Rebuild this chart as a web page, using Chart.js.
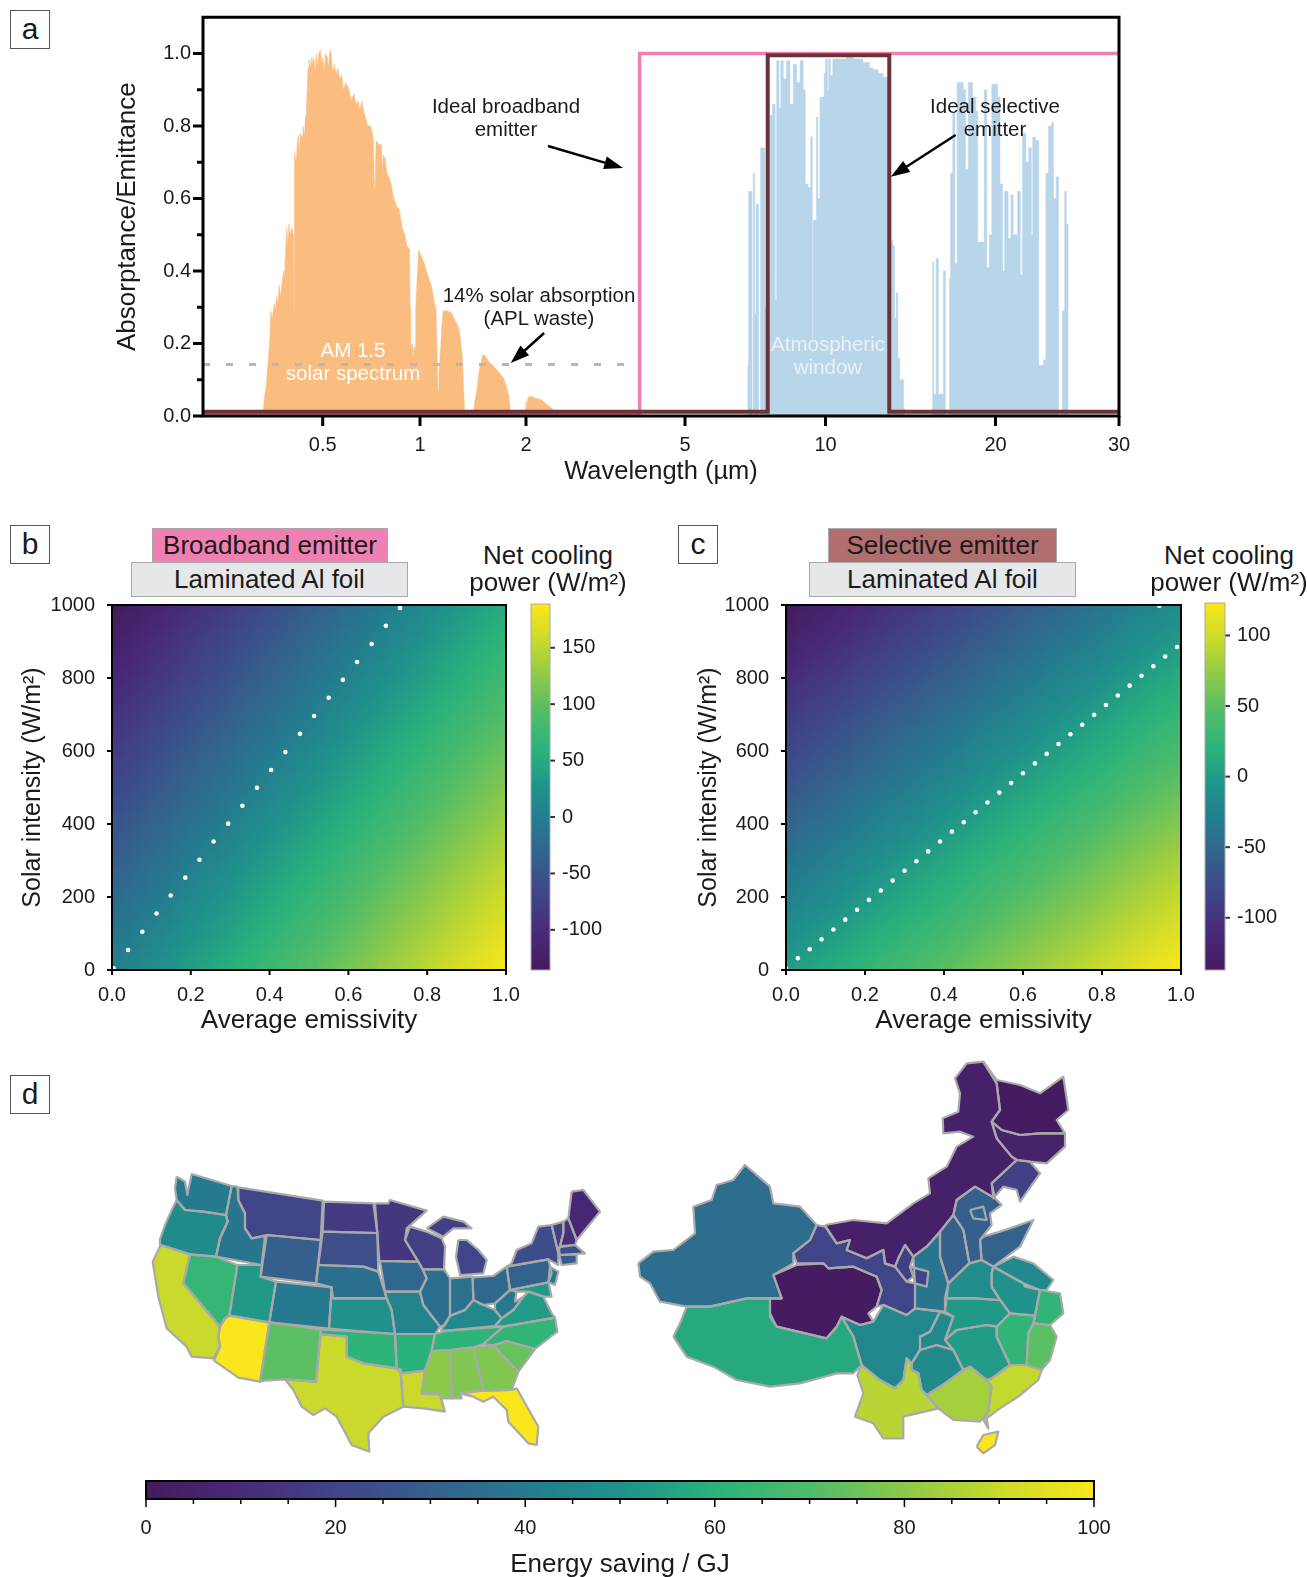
<!DOCTYPE html>
<html>
<head>
<meta charset="utf-8">
<title>Emitter cooling figure</title>
<script src="https://cdn.jsdelivr.net/npm/chart.js@4/dist/chart.umd.min.js"></script>
<style>
  html, body { margin: 0; padding: 0; background: #fff; }
  #page { position: relative; width: 1307px; height: 1577px; overflow: hidden; font-family: "Liberation Sans", Arial, sans-serif; color: #1a1a1a; }
  #page canvas { position: absolute; }
  .label { position: absolute; transform: translate(-50%, -50%); white-space: nowrap; line-height: 1; }
  .letter { position: absolute; box-sizing: border-box; width: 40px; height: 39px; border: 1px solid #555; background: #fff; font-size: 30px; line-height: 35px; text-align: center; }
  .strip { position: absolute; box-sizing: border-box; border: 1px solid #a9a9a9; font-size: 26px; text-align: center; line-height: 32px; }
</style>
</head>
<body>
<div id="page"></div>
<script>
// panel a
const axisWaves = [0.2, 0.5, 1, 2, 5, 10, 20, 30];
const axisOffsets = [0, 119.7, 217, 323, 482, 622.5, 792.5, 916];
const waveTicks = [0.5, 1, 2, 5, 10, 20, 30];
const waveTickLabels = ['0.5', '1', '2', '5', '10', '20', '30'];
const absorbTicks = [0, 0.1, 0.2, 0.3, 0.4, 0.5, 0.6, 0.7, 0.8, 0.9, 1.0];

const solarWave = [0.30, 0.317, 0.320, 0.324, 0.327, 0.330, 0.334, 0.336, 0.340, 0.345, 0.348, 0.351, 0.355, 0.358, 0.362, 0.366, 0.370, 0.373, 0.376, 0.380, 0.383, 0.386, 0.390, 0.395, 0.399, 0.401, 0.402, 0.403, 0.408, 0.412, 0.415, 0.418, 0.421, 0.427, 0.430, 0.435, 0.438, 0.441, 0.444, 0.447, 0.450, 0.455, 0.460, 0.464, 0.467, 0.472, 0.476, 0.480, 0.485, 0.491, 0.496, 0.500, 0.505, 0.510, 0.517, 0.521, 0.525, 0.530, 0.535, 0.540, 0.544, 0.550, 0.556, 0.565, 0.573, 0.580, 0.590, 0.603, 0.612, 0.625, 0.635, 0.645, 0.651, 0.660, 0.670, 0.685, 0.690, 0.704, 0.712, 0.718, 0.722, 0.726, 0.731, 0.745, 0.760, 0.764, 0.770, 0.780, 0.790, 0.800, 0.815, 0.825, 0.831, 0.845, 0.864, 0.880, 0.898, 0.910, 0.928, 0.932, 0.936, 0.945, 0.950, 0.955, 0.960, 0.966, 0.970, 0.990, 1.0, 1.029, 1.05, 1.078, 1.10, 1.11, 1.118, 1.125, 1.132, 1.144, 1.152, 1.163, 1.18, 1.2, 1.228, 1.25, 1.287, 1.30, 1.318, 1.33, 1.34, 1.414, 1.431, 1.45, 1.47, 1.507, 1.53, 1.57, 1.61, 1.66, 1.728, 1.76, 1.79, 1.811, 1.99, 2.0, 2.01, 2.02, 2.054, 2.1, 2.186, 2.27, 2.35, 2.45];
const solarValue = [0, 0.01, 0.05, 0.08, 0.12, 0.16, 0.22, 0.29, 0.27, 0.31, 0.29, 0.33, 0.31, 0.36, 0.33, 0.365, 0.40, 0.38, 0.45, 0.52, 0.47, 0.53, 0.50, 0.52, 0.50, 0.29, 0.29, 0.73, 0.70, 0.76, 0.775, 0.72, 0.78, 0.77, 0.80, 0.77, 0.83, 0.83, 0.90, 0.96, 0.985, 0.96, 0.99, 0.97, 0.99, 0.95, 1.0, 0.96, 1.0, 1.01, 0.97, 0.99, 0.95, 1.0, 0.99, 0.96, 1.0, 1.01, 0.96, 0.95, 0.97, 0.94, 0.96, 0.93, 0.94, 0.90, 0.92, 0.90, 0.87, 0.89, 0.86, 0.87, 0.84, 0.87, 0.84, 0.81, 0.80, 0.80, 0.78, 0.76, 0.63, 0.63, 0.76, 0.75, 0.75, 0.68, 0.72, 0.71, 0.67, 0.66, 0.64, 0.61, 0.60, 0.58, 0.57, 0.52, 0.50, 0.47, 0.46, 0.30, 0.17, 0.20, 0.17, 0.17, 0.19, 0.19, 0.30, 0.457, 0.45, 0.42, 0.39, 0.36, 0.31, 0.30, 0.18, 0.07, 0.12, 0.18, 0.24, 0.29, 0.29, 0.29, 0.285, 0.27, 0.245, 0.22, 0.17, 0.08, 0, 0, 0.04, 0.07, 0.12, 0.17, 0.165, 0.15, 0.14, 0.125, 0.105, 0.08, 0.055, 0, 0, 0.04, 0.02, 0.05, 0.055, 0.05, 0.045, 0.03, 0.015, 0];

const atmoWave = [6.80, 6.84, 6.93, 6.96, 7.0, 7.05, 7.10, 7.17, 7.19, 7.26, 7.38, 7.42, 7.50, 7.55, 7.61, 7.70, 7.75, 7.80, 7.86, 7.95, 8.02, 8.12, 8.25, 8.39, 8.53, 8.68, 8.82, 8.96, 9.05, 9.18, 9.29, 9.34, 9.37, 9.41, 9.48, 9.56, 9.63, 9.73, 9.81, 9.93, 10.0, 10.08, 10.13, 10.2, 10.3, 10.46, 10.89, 11.19, 11.65, 11.97, 12.14, 12.39, 12.64, 12.9, 12.99, 13.07, 13.16, 13.25, 13.34, 13.43, 13.53, 13.67, 13.75, 13.80, 15.48, 15.55, 15.7, 15.85, 16.17, 16.3, 16.58, 16.65, 16.8, 16.95, 17.1, 17.37, 17.54, 17.7, 17.9, 18.09, 18.22, 18.46, 18.6, 18.85, 19.1, 19.3, 19.5, 19.7, 19.97, 20.13, 20.3, 20.47, 20.6, 20.85, 21.04, 21.2, 21.5, 21.7, 21.85, 22.1, 22.3, 22.5, 22.6, 22.8, 23.05, 23.24, 23.4, 23.6, 23.8, 24.05, 24.2, 24.4, 24.6, 24.9, 25.1, 25.24, 25.38];
const atmoValue = [0.136, 0.62, 0.62, 0, 0.67, 0.28, 0.585, 0.585, 0, 0.74, 0.74, 0.3, 0.3, 0.4, 0.83, 0.86, 0.86, 0.32, 0.98, 0.85, 0.98, 0.93, 0.98, 0.86, 0.97, 0.92, 0.98, 0.90, 0.64, 0.63, 0.77, 0.77, 0.21, 0.54, 0.54, 0.825, 0.60, 0.88, 0.88, 0.945, 0.985, 0.90, 0.985, 0.94, 0.985, 0.985, 0.99, 0.985, 0.975, 0.96, 0.955, 0.945, 0.935, 0.85, 0.65, 0.485, 0.47, 0.27, 0.34, 0.16, 0.10, 0.10, 0.02, 0, 0.425, 0.06, 0.435, 0.06, 0.40, 0, 0.38, 0.67, 0.835, 0.42, 0.92, 0.92, 0.90, 0.68, 0.92, 0.92, 0.88, 0.84, 0.48, 0.48, 0.90, 0.41, 0.50, 0.915, 0.915, 0.88, 0.64, 0.40, 0.62, 0.49, 0.61, 0.50, 0.62, 0.39, 0.78, 0.70, 0.74, 0.50, 0.77, 0.76, 0.14, 0.14, 0.155, 0.67, 0.80, 0.81, 0.60, 0.66, 0, 0.29, 0.62, 0.53, 0];

const broadbandWave = [0.2, 3.85, 3.85, 30];
const broadbandValue = [0.005, 0.005, 1, 1];
const selectiveWave = [0.2, 7.52, 7.52, 12.97, 12.97, 30];
const selectiveValue = [0.012, 0.012, 0.995, 0.995, 0.012, 0.012];
const wasteWave = [0.2, 3.6];
const wasteValue = [0.142, 0.142];
const arrowFromWave = [2.27, 17.0, 2.22];
const arrowFromValue = [0.745, 0.775, 0.229];
const arrowToWave = [3.5, 13.05, 1.81];
const arrowToValue = [0.684, 0.66, 0.146];

// panels b and c
const emissivity = [0, 0.05, 0.1, 0.15, 0.2, 0.25, 0.3, 0.35, 0.4, 0.45, 0.5, 0.55, 0.6, 0.65, 0.7, 0.75, 0.8, 0.85, 0.9, 0.95, 1];
const solarIntensity = [1000, 950, 900, 850, 800, 750, 700, 650, 600, 550, 500, 450, 400, 350, 300, 250, 200, 150, 100, 50, 0];
const emissivityTicks = [0, 0.2, 0.4, 0.6, 0.8, 1];
const intensityTicks = [0, 200, 400, 600, 800, 1000];

const broadbandPower = [
  [-137,-128,-118,-109,-99,-90,-81,-71,-62,-52,-43,-34,-24,-15,-5,4,13,23,32,42,51],
  [-130,-121,-111,-102,-92,-83,-74,-64,-55,-45,-36,-27,-17,-8,2,11,20,30,39,49,58],
  [-123,-114,-104,-95,-85,-76,-67,-57,-48,-38,-29,-20,-10,-1,9,18,27,37,46,56,65],
  [-116,-107,-97,-88,-78,-69,-60,-50,-41,-31,-22,-13,-3,6,16,25,34,44,53,63,72],
  [-110,-101,-91,-82,-72,-63,-54,-44,-35,-25,-16,-7,3,12,22,31,40,50,59,69,78],
  [-103,-94,-84,-75,-65,-56,-47,-37,-28,-18,-9,0,10,19,29,38,47,57,66,76,85],
  [-96,-87,-77,-68,-58,-49,-40,-30,-21,-11,-2,7,17,26,36,45,54,64,73,83,92],
  [-89,-80,-70,-61,-51,-42,-33,-23,-14,-4,5,14,24,33,43,52,61,71,80,90,99],
  [-82,-73,-63,-54,-44,-35,-26,-16,-7,3,12,21,31,40,50,59,68,78,87,97,106],
  [-75,-66,-56,-47,-37,-28,-19,-9,0,10,19,28,38,47,57,66,75,85,94,104,113],
  [-69,-60,-50,-41,-31,-22,-13,-3,6,16,25,34,44,53,63,72,81,91,100,110,119],
  [-62,-53,-43,-34,-24,-15,-6,4,13,23,32,41,51,60,70,79,88,98,107,117,126],
  [-55,-46,-36,-27,-17,-8,1,11,20,30,39,48,58,67,77,86,95,105,114,124,133],
  [-48,-39,-29,-20,-10,-1,8,18,27,37,46,55,65,74,84,93,102,112,121,131,140],
  [-41,-32,-22,-13,-3,6,15,25,34,44,53,62,72,81,91,100,109,119,128,138,147],
  [-34,-25,-15,-6,4,13,22,32,41,51,60,69,79,88,98,107,116,126,135,145,154],
  [-27,-18,-8,1,11,20,29,39,48,58,67,76,86,95,105,114,123,133,142,152,161],
  [-21,-12,-2,7,17,26,35,45,54,64,73,82,92,101,111,120,129,139,148,158,167],
  [-14,-5,5,14,24,33,42,52,61,71,80,89,99,108,118,127,136,146,155,165,174],
  [-7,2,12,21,31,40,49,59,68,78,87,96,106,115,125,134,143,153,162,172,181],
  [0,9,19,28,38,47,56,66,75,85,94,103,113,122,132,141,150,160,169,179,188],
];
const selectivePower = [
  [-137,-131,-125,-119,-112,-106,-100,-94,-88,-82,-75,-69,-63,-57,-51,-45,-39,-32,-26,-20,-14],
  [-131,-125,-119,-113,-106,-100,-94,-88,-82,-76,-69,-63,-57,-51,-45,-39,-33,-26,-20,-14,-8],
  [-124,-118,-112,-106,-99,-93,-87,-81,-75,-69,-62,-56,-50,-44,-38,-32,-26,-19,-13,-7,-1],
  [-117,-111,-105,-99,-92,-86,-80,-74,-68,-62,-55,-49,-43,-37,-31,-25,-19,-12,-6,0,6],
  [-110,-104,-98,-92,-85,-79,-73,-67,-61,-55,-48,-42,-36,-30,-24,-18,-12,-5,1,7,13],
  [-103,-97,-91,-85,-78,-72,-66,-60,-54,-48,-41,-35,-29,-23,-17,-11,-5,2,8,14,20],
  [-96,-90,-84,-78,-71,-65,-59,-53,-47,-41,-34,-28,-22,-16,-10,-4,2,9,15,21,27],
  [-89,-83,-77,-71,-64,-58,-52,-46,-40,-34,-27,-21,-15,-9,-3,3,9,16,22,28,34],
  [-83,-77,-71,-65,-58,-52,-46,-40,-34,-28,-21,-15,-9,-3,3,9,15,22,28,34,40],
  [-76,-70,-64,-58,-51,-45,-39,-33,-27,-21,-14,-8,-2,4,10,16,22,29,35,41,47],
  [-69,-63,-57,-51,-44,-38,-32,-26,-20,-14,-7,-1,5,11,17,23,29,36,42,48,54],
  [-62,-56,-50,-44,-37,-31,-25,-19,-13,-7,0,6,12,18,24,30,36,43,49,55,61],
  [-55,-49,-43,-37,-30,-24,-18,-12,-6,0,7,13,19,25,31,37,43,50,56,62,68],
  [-48,-42,-36,-30,-23,-17,-11,-5,1,7,14,20,26,32,38,44,50,57,63,69,75],
  [-41,-35,-29,-23,-16,-10,-4,2,8,14,21,27,33,39,45,51,57,64,70,76,82],
  [-34,-28,-22,-16,-9,-3,3,9,15,21,28,34,40,46,52,58,64,71,77,83,89],
  [-28,-22,-16,-10,-3,3,9,15,21,27,34,40,46,52,58,64,70,77,83,89,95],
  [-21,-15,-9,-3,4,10,16,22,28,34,41,47,53,59,65,71,77,84,90,96,102],
  [-14,-8,-2,4,11,17,23,29,35,41,48,54,60,66,72,78,84,91,97,103,109],
  [-7,-1,5,11,18,24,30,36,42,48,55,61,67,73,79,85,91,98,104,110,116],
  [0,6,12,18,25,31,37,43,49,55,62,68,74,80,86,92,98,105,111,117,123],
];
const broadbandRange = [-135.6, 188.8];
const selectiveRange = [-137, 123];
const broadbandBarTicks = [-100, -50, 0, 50, 100, 150];
const selectiveBarTicks = [-100, -50, 0, 50, 100];

const broadbandZeroE = [0.004, 0.041, 0.077, 0.113, 0.149, 0.186, 0.222, 0.258, 0.295, 0.331, 0.368, 0.404, 0.44, 0.477, 0.513, 0.55, 0.586, 0.622, 0.659, 0.695, 0.731];
const broadbandZeroS = [5, 55, 105, 155, 204, 253, 302, 352, 401, 450, 499, 548, 597, 647, 696, 746, 795, 844, 893, 943, 992];
const selectiveZeroE = [0, 0.03, 0.06, 0.09, 0.12, 0.15, 0.18, 0.21, 0.24, 0.27, 0.30, 0.33, 0.36, 0.39, 0.42, 0.45, 0.48, 0.51, 0.54, 0.57, 0.60, 0.63, 0.66, 0.69, 0.72, 0.75, 0.78, 0.81, 0.84, 0.87, 0.90, 0.93, 0.96, 0.99, 0.945];
const selectiveZeroS = [5, 32, 57, 84, 111, 138, 165, 192, 218, 245, 272, 298, 325, 352, 379, 405, 432, 459, 486, 512, 539, 566, 592, 619, 646, 672, 699, 726, 752, 779, 806, 832, 859, 885, 998];

// panel d
const savingRange = [0, 100];
const savingTicks = [0, 5, 10, 15, 20, 25, 30, 35, 40, 45, 50, 55, 60, 65, 70, 75, 80, 85, 90, 95, 100];

const usNames = ['WA','OR','CA','NV','ID','MT','WY','UT','CO','AZ','NM','TX','OK','KS','NE','SD','ND','MN','IA','MO','AR','LA','MS','AL','GA','SC','NC','TN','KY','VA','WV','OH','IN','IL','WI','MI','UP','PA','NY','VT','NH','ME','MA','CT','NJ','MD','FL'];
const usSaving = [40,47,90,63,38,20,30,52,40,100,72,90,61,50,36,24,16,15,33,44,60,90,80,78,78,74,62,61,46,53,40,34,37,36,18,20,18,31,23,18,12,8,24,28,40,52,100];
const usOutlines = [
  [[140,80],[165,95],[172,135],[185,72],[305,108],[288,195],[220,185],[165,180],[140,150],[135,115]],
  [[140,150],[165,180],[220,185],[288,195],[293,215],[270,265],[258,320],[180,313],[92,285],[90,268],[105,225],[125,180]],
  [[92,285],[180,313],[160,400],[270,530],[265,560],[270,590],[250,625],[185,620],[170,590],[110,535],[85,440],[68,335]],
  [[180,313],[258,320],[322,345],[298,497],[285,505],[270,530],[160,400]],
  [[305,108],[322,110],[325,150],[345,190],[345,235],[365,265],[405,258],[395,345],[258,320],[270,265],[293,215],[288,195]],
  [[325,112],[578,152],[572,270],[410,255],[365,265],[345,235],[345,190],[325,150]],
  [[410,255],[572,270],[558,400],[392,380]],
  [[322,345],[395,345],[392,380],[438,395],[418,517],[298,497]],
  [[438,395],[605,412],[597,536],[418,517]],
  [[298,497],[418,517],[390,695],[325,683],[252,632],[270,590],[265,560],[270,530],[285,505]],
  [[418,517],[572,538],[558,695],[465,688],[400,692],[390,695]],
  [[572,553],[650,560],[650,620],[700,640],[800,655],[812,670],[820,770],[760,800],[715,850],[718,905],[665,885],[620,800],[585,775],[550,795],[515,770],[490,720],[465,688],[558,695]],
  [[572,538],[795,552],[800,655],[700,640],[650,620],[650,560],[572,553]],
  [[608,445],[770,445],[785,480],[795,552],[597,536],[605,412]],
  [[565,345],[700,350],[745,365],[770,445],[608,445],[605,412],[558,400]],
  [[578,245],[742,249],[745,365],[700,350],[565,345]],
  [[582,155],[730,160],[742,249],[578,245]],
  [[735,160],[775,160],[780,150],[890,182],[830,235],[825,270],[865,335],[748,333],[742,250]],
  [[750,333],[865,335],[878,358],[890,385],[870,425],[765,425]],
  [[765,425],[870,425],[880,465],[930,530],[915,552],[795,552],[785,480],[770,445]],
  [[795,552],[915,552],[905,603],[885,662],[815,670],[812,658],[800,655]],
  [[812,670],[885,662],[875,730],[930,735],[945,785],[880,775],[820,770]],
  [[905,603],[960,600],[965,745],[935,745],[925,730],[875,730],[885,662]],
  [[960,600],[1030,592],[1060,720],[990,730],[995,745],[965,745]],
  [[1030,592],[1090,586],[1165,665],[1145,720],[1060,722]],
  [[1090,586],[1130,573],[1215,597],[1165,665]],
  [[1060,582],[1120,530],[1275,503],[1282,545],[1215,597],[1130,573],[1090,586]],
  [[915,552],[950,542],[1120,530],[1060,582],[1030,592],[960,600],[905,603]],
  [[932,542],[960,497],[1005,480],[1030,450],[1060,465],[1095,480],[1115,505],[1095,528],[950,542]],
  [[1095,528],[1115,505],[1150,480],[1180,440],[1195,425],[1240,440],[1265,490],[1275,503],[1120,530]],
  [[1095,460],[1140,420],[1160,425],[1155,455],[1180,440],[1150,480],[1115,505],[1095,480]],
  [[1028,382],[1090,378],[1130,350],[1140,420],[1095,460],[1060,465],[1030,450]],
  [[960,385],[1028,380],[1030,450],[1005,480],[960,497]],
  [[878,358],[942,358],[960,385],[960,497],[945,525],[930,530],[880,465],[870,425],[890,385]],
  [[840,230],[890,245],[935,265],[945,290],[942,358],[878,358],[865,335],[825,270]],
  [[985,270],[1010,270],[1045,300],[1070,330],[1060,370],[990,375],[978,320]],
  [[890,235],[940,200],[1000,215],[1025,235],[970,235],[940,260]],
  [[1130,350],[1255,328],[1265,370],[1255,397],[1140,420]],
  [[1145,340],[1160,300],[1205,280],[1225,230],[1265,225],[1285,310],[1285,345],[1255,328],[1130,350]],
  [[1265,225],[1300,215],[1300,250],[1290,288],[1285,310]],
  [[1315,205],[1340,270],[1335,285],[1290,288],[1300,250],[1300,215]],
  [[1325,125],[1360,120],[1410,185],[1340,270],[1315,205]],
  [[1285,292],[1335,285],[1365,310],[1290,315]],
  [[1288,315],[1340,313],[1340,340],[1295,345]],
  [[1260,350],[1285,365],[1275,405],[1255,397]],
  [[1140,420],[1255,397],[1265,440],[1240,440],[1195,425],[1160,425]],
  [[990,730],[1060,722],[1145,720],[1160,715],[1225,830],[1220,885],[1195,880],[1135,815],[1130,780],[1090,740],[1060,755],[1030,740]],
];

const chinaNames = ['Xinjiang','Tibet','Qinghai','Gansu','Inner Mongolia','Heilongjiang','Jilin','Liaoning','Hebei','Beijing','Shanxi','Shaanxi','Ningxia','Ningxia south','Shandong','Henan','Jiangsu','Anhui','Hubei','Zhejiang','Jiangxi','Fujian','Hunan','Chongqing','Sichuan','Guizhou','Yunnan','Guangxi','Guangdong','Hainan'];
const chinaSaving = [35,57,1,20,4,1,5,18,30,33,30,38,18,20,31,48,46,50,52,62,62,72,53,46,45,47,87,84,89,100];
const chinaOutlines = [
  [[55,640],[100,605],[160,600],[225,550],[220,470],[275,450],[290,405],[340,390],[375,345],[450,410],[460,460],[540,470],[590,525],[570,570],[520,610],[520,640],[460,675],[485,745],[380,745],[270,770],[200,770],[120,755],[90,700],[60,680]],
  [[160,860],[180,820],[200,770],[270,770],[380,745],[485,745],[450,745],[450,800],[470,830],[620,865],[650,830],[665,800],[700,860],[725,945],[700,970],[650,970],[540,1000],[450,1010],[350,990],[280,950],[200,920]],
  [[460,675],[530,645],[610,640],[625,655],[700,650],[770,680],[785,720],[770,770],[745,790],[760,815],[720,825],[665,800],[650,830],[620,865],[470,830],[450,790],[450,745],[485,745]],
  [[590,525],[615,530],[650,580],[690,570],[680,600],[740,625],[790,600],[795,640],[825,650],[860,695],[885,700],[885,775],[860,795],[790,765],[770,770],[785,720],[770,680],[700,650],[625,655],[610,640],[530,640],[520,610],[570,570]],
  [[615,525],[700,510],[800,520],[880,460],[930,430],[925,385],[980,350],[1010,290],[1060,260],[1020,245],[970,250],[968,205],[1015,185],[1020,130],[1005,85],[1040,40],[1090,35],[1130,100],[1140,180],[1115,215],[1130,265],[1175,320],[1190,330],[1115,400],[1125,445],[1065,410],[1010,450],[1000,495],[960,545],[920,590],[880,620],[855,585],[835,625],[825,650],[795,640],[790,600],[740,625],[680,600],[690,570],[650,580]],
  [[1090,35],[1130,90],[1200,105],[1260,130],[1330,80],[1345,180],[1310,210],[1335,250],[1260,250],[1200,255],[1145,240],[1115,215],[1140,180],[1130,100]],
  [[1115,215],[1145,240],[1200,255],[1260,250],[1335,250],[1335,290],[1280,340],[1230,335],[1190,330],[1175,320],[1130,265]],
  [[1190,330],[1230,335],[1260,370],[1200,455],[1190,420],[1150,410],[1120,445],[1115,400]],
  [[1065,410],[1125,445],[1145,465],[1110,490],[1115,525],[1080,570],[1085,630],[1048,640],[1030,540],[1000,495],[1010,450]],
  [[1050,480],[1090,470],[1100,510],[1060,505]],
  [[1000,495],[1030,540],[1048,640],[985,700],[960,620],[960,545]],
  [[960,545],[960,620],[985,700],[975,745],[975,785],[885,775],[885,700],[880,620],[920,590]],
  [[855,585],[880,620],[870,650],[880,680],[860,695],[825,650],[835,625]],
  [[870,650],[925,665],[920,710],[885,700],[880,680]],
  [[1090,560],[1140,545],[1170,535],[1240,510],[1200,590],[1120,650],[1085,630],[1080,570]],
  [[985,700],[1048,640],[1085,630],[1120,650],[1115,670],[1115,710],[1140,750],[1060,745],[980,745]],
  [[1120,650],[1180,620],[1240,640],[1300,690],[1280,720],[1260,720],[1210,700]],
  [[1115,670],[1120,650],[1210,700],[1215,710],[1260,720],[1245,797],[1170,790],[1140,750],[1115,710]],
  [[980,745],[1060,745],[1140,750],[1170,790],[1130,830],[1100,825],[1010,840],[975,870],[1000,800],[975,785]],
  [[1260,720],[1320,730],[1330,790],[1290,825],[1240,820],[1245,797]],
  [[1170,790],[1245,797],[1240,820],[1225,850],[1220,945],[1170,945],[1130,860],[1130,830]],
  [[1240,820],[1290,825],[1310,860],[1290,930],[1265,960],[1220,945],[1225,850]],
  [[975,870],[1010,840],[1100,825],[1130,830],[1130,860],[1170,945],[1115,985],[1100,990],[1050,950],[1030,960],[1000,900]],
  [[960,785],[1000,800],[975,870],[1000,900],[950,885],[900,900],[900,860],[930,845]],
  [[665,800],[720,825],[760,815],[790,765],[860,795],[885,775],[960,785],[930,845],[900,860],[900,900],[875,940],[860,925],[850,990],[825,1015],[780,990],[725,945],[700,860]],
  [[900,900],[950,885],[1000,900],[1030,960],[975,1000],[920,1035],[905,1020],[895,970],[875,960],[875,940]],
  [[725,945],[780,990],[825,1015],[850,990],[860,925],[875,940],[875,960],[895,970],[905,1020],[920,1035],[955,1075],[850,1100],[850,1165],[790,1165],[760,1120],[705,1100],[730,1030],[712,975]],
  [[920,1035],[975,1000],[1030,960],[1050,950],[1100,990],[1115,1010],[1105,1085],[1080,1115],[1000,1110],[955,1075]],
  [[1100,990],[1115,985],[1170,945],[1220,945],[1265,960],[1255,990],[1195,1040],[1140,1075],[1100,1105],[1105,1135],[1090,1110],[1105,1085],[1115,1010]],
  [[1070,1190],[1090,1155],[1135,1145],[1125,1185],[1090,1210]],
];

const viridis = ['#451a5e', '#482a78', '#404488', '#355f8d', '#257a8f', '#1f938b', '#2ab27b', '#4fbc69', '#8cc94a', '#c9da2c', '#fae71b'];

const page = document.getElementById('page');
Chart.defaults.font.family = '"Liberation Sans", Arial, sans-serif';
Chart.defaults.color = '#1a1a1a';
Chart.defaults.animation = false;
Chart.defaults.plugins.legend.display = false;
Chart.defaults.plugins.tooltip.enabled = false;

const warp = (wave) => {
  let i = 0;
  while (i < axisWaves.length - 2 && wave > axisWaves[i + 1]) i++;
  const part = Math.log(wave / axisWaves[i]) / Math.log(axisWaves[i + 1] / axisWaves[i]);
  return axisOffsets[i] + part * (axisOffsets[i + 1] - axisOffsets[i]);
};

const hexToRgb = (hex) => [1, 3, 5].map((p) => parseInt(hex.slice(p, p + 2), 16));
const colorAt = (t) => {
  const pos = Math.min(Math.max(t, 0), 1) * (viridis.length - 1);
  const i = Math.min(Math.floor(pos), viridis.length - 2);
  const a = hexToRgb(viridis[i]);
  const b = hexToRgb(viridis[i + 1]);
  const c = a.map((v, k) => Math.round(v + (b[k] - v) * (pos - i)));
  return `rgb(${c[0]},${c[1]},${c[2]})`;
};

const addCanvas = (left, top, width, height) => {
  const canvas = document.createElement('canvas');
  canvas.width = width;
  canvas.height = height;
  canvas.style.left = left + 'px';
  canvas.style.top = top + 'px';
  page.appendChild(canvas);
  return canvas.getContext('2d');
};

const addLabel = (text, x, y, size, color) => {
  const el = document.createElement('div');
  el.className = 'label';
  el.textContent = text;
  el.style.left = x + 'px';
  el.style.top = y + 'px';
  el.style.fontSize = size + 'px';
  if (color) el.style.color = color;
  page.appendChild(el);
};

const addLetter = (text, left, top) => {
  const el = document.createElement('div');
  el.className = 'letter';
  el.textContent = text;
  el.style.left = left + 'px';
  el.style.top = top + 'px';
  page.appendChild(el);
};

const addStrip = (text, left, top, width, height, color) => {
  const el = document.createElement('div');
  el.className = 'strip';
  el.textContent = text;
  el.style.left = left + 'px';
  el.style.top = top + 'px';
  el.style.width = width + 'px';
  el.style.height = height + 'px';
  el.style.background = color;
  page.appendChild(el);
};

// fixed axis sizes, so the plot area lands where the reference has it
const fixSize = (key, size) => (s) => {
  s[key] = size;
  s.paddingTop = 0;
  s.paddingBottom = 0;
  s.paddingLeft = 0;
  s.paddingRight = 0;
};

// ticks and frame drawn from the scales, unlabelled ticks come out shorter
const frameTicks = {
  id: 'frameTicks',
  afterDraw(chart, args, opts) {
    const { ctx, chartArea: area } = chart;
    ctx.save();
    ctx.strokeStyle = opts.color || '#000';
    ctx.lineWidth = opts.tickWidth;
    Object.values(chart.scales).forEach((scale) => {
      if (!scale.options.display) return;
      scale.ticks.forEach((tick) => {
        const p = scale.getPixelForValue(tick.value);
        const len = tick.label === '' ? opts.minor : opts.major;
        ctx.beginPath();
        if (scale.isHorizontal()) {
          ctx.moveTo(p, area.bottom);
          ctx.lineTo(p, area.bottom + len);
        } else if (scale.position === 'right') {
          ctx.moveTo(area.right, p);
          ctx.lineTo(area.right + len, p);
        } else {
          ctx.moveTo(area.left, p);
          ctx.lineTo(area.left - len, p);
        }
        ctx.stroke();
      });
    });
    if (opts.frame) {
      ctx.strokeStyle = opts.frameColor || '#000';
      ctx.lineWidth = opts.frame;
      ctx.strokeRect(area.left, area.top, area.right - area.left, area.bottom - area.top);
    }
    ctx.restore();
  },
};

const arrowHeads = {
  id: 'arrowHeads',
  afterDatasetsDraw(chart) {
    const { ctx, scales } = chart;
    ctx.save();
    ctx.strokeStyle = '#000';
    ctx.fillStyle = '#000';
    ctx.lineWidth = 2.5;
    arrowFromWave.forEach((wave, i) => {
      const x1 = scales.x.getPixelForValue(warp(wave));
      const y1 = scales.y.getPixelForValue(arrowFromValue[i]);
      const x2 = scales.x.getPixelForValue(warp(arrowToWave[i]));
      const y2 = scales.y.getPixelForValue(arrowToValue[i]);
      const angle = Math.atan2(y2 - y1, x2 - x1);
      ctx.beginPath();
      ctx.moveTo(x1, y1);
      ctx.lineTo(x2 - 14 * Math.cos(angle), y2 - 14 * Math.sin(angle));
      ctx.stroke();
      ctx.beginPath();
      ctx.moveTo(x2, y2);
      ctx.lineTo(x2 - 20 * Math.cos(angle - 0.33), y2 - 20 * Math.sin(angle - 0.33));
      ctx.lineTo(x2 - 20 * Math.cos(angle + 0.33), y2 - 20 * Math.sin(angle + 0.33));
      ctx.closePath();
      ctx.fill();
    });
    ctx.restore();
  },
};

const regionFill = {
  id: 'regionFill',
  beforeDatasetsDraw(chart) {
    const { ctx } = chart;
    chart.data.datasets.forEach((set, i) => {
      const points = chart.getDatasetMeta(i).data;
      ctx.beginPath();
      points.forEach((p, k) => (k ? ctx.lineTo(p.x, p.y) : ctx.moveTo(p.x, p.y)));
      ctx.closePath();
      ctx.fillStyle = set.regionColor;
      ctx.fill();
    });
  },
};

// softens the cell edges of the heat maps, the plot area is blurred onto itself
const softCells = {
  id: 'softCells',
  afterDatasetDraw(chart, args) {
    if (args.index !== 1) return;
    const { ctx, chartArea: area } = chart;
    const w = area.right - area.left;
    const h = area.bottom - area.top;
    ctx.save();
    ctx.beginPath();
    ctx.rect(area.left, area.top, w, h);
    ctx.clip();
    ctx.filter = 'blur(9px)';
    ctx.drawImage(ctx.canvas, area.left, area.top, w, h, area.left, area.top, w, h);
    ctx.restore();
  },
};

const lineSet = (waves, values, extra) => ({
  data: waves.map((w, i) => ({ x: warp(w), y: values[i] })),
  showLine: true,
  pointRadius: 0,
  borderWidth: 0,
  ...extra,
});

new Chart(addCanvas(100, 5, 1044, 485), {
  type: 'scatter',
  data: {
    datasets: [
      lineSet(selectiveWave, selectiveValue, { borderColor: '#6d3234', borderWidth: 4 }),
      lineSet(broadbandWave, broadbandValue, { borderColor: '#f27fb4', borderWidth: 3.5 }),
      lineSet(wasteWave, wasteValue, { borderColor: '#b7b7b7', borderWidth: 3, borderDash: [7, 16] }),
      lineSet(solarWave, solarValue, { fill: 'origin', backgroundColor: '#fbbd7f', borderColor: '#fbbd7f', borderWidth: 0.5 }),
      lineSet(atmoWave, atmoValue, { fill: 'origin', stepped: 'before', backgroundColor: '#b8d5ea', borderColor: '#b8d5ea', borderWidth: 0.5 }),
    ],
  },
  options: {
    responsive: false,
    layout: { padding: { top: 12.25, right: 25 } },
    scales: {
      x: {
        type: 'linear',
        min: 0,
        max: 916,
        afterFit: fixSize('height', 74),
        afterBuildTicks: (s) => { s.ticks = waveTicks.map((w) => ({ value: warp(w) })); },
        grid: { display: false, drawTicks: false },
        border: { display: false },
        ticks: { padding: 17, autoSkip: false, maxRotation: 0, font: { size: 20 }, callback: (v, i) => waveTickLabels[i] },
        title: { display: true, text: 'Wavelength (µm)', font: { size: 25.5 }, padding: { top: 0, bottom: 2.6 } },
      },
      y: {
        min: 0,
        max: 1.1,
        afterFit: fixSize('width', 103),
        afterBuildTicks: (s) => { s.ticks = absorbTicks.map((v) => ({ value: v })); },
        grid: { display: false, drawTicks: false },
        border: { display: false },
        ticks: { padding: 12, autoSkip: false, font: { size: 20 }, callback: (v, i) => (i % 2 ? '' : v.toFixed(1)) },
        title: { display: true, text: 'Absorptance/Emittance', font: { size: 26 }, padding: { top: 12, bottom: 0 } },
      },
    },
    plugins: { frameTicks: { major: 10, minor: 6, tickWidth: 3, frame: 3 } },
  },
  plugins: [arrowHeads, frameTicks],
});

const heatChart = (ctx, power, range, zeroE, zeroS, marginLeft, titlePad, padTop) => {
  const cells = [];
  const cellColors = [];
  power.forEach((row, r) => row.forEach((value, c) => {
    cells.push({ x: emissivity[c], y: solarIntensity[r] });
    cellColors.push(colorAt((value - range[0]) / (range[1] - range[0])));
  }));
  return new Chart(ctx, {
    type: 'scatter',
    data: {
      datasets: [
        { data: zeroE.map((e, i) => ({ x: e, y: zeroS[i] })), pointRadius: 2.3, pointBackgroundColor: '#fff', pointBorderWidth: 0, clip: 0 },
        { data: cells, pointStyle: 'rect', pointRadius: 15, pointBackgroundColor: cellColors, pointBorderWidth: 0, clip: 0 },
      ],
    },
    options: {
      responsive: false,
      layout: { padding: { top: padTop, right: 19 } },
      scales: {
        x: {
          min: 0,
          max: 1,
          afterFit: fixSize('height', 70),
          afterBuildTicks: (s) => { s.ticks = emissivityTicks.map((v) => ({ value: v })); },
          grid: { display: false, drawTicks: false },
          border: { display: false },
          ticks: { padding: 13, autoSkip: false, maxRotation: 0, font: { size: 20 }, callback: (v) => v.toFixed(1) },
          title: { display: true, text: 'Average emissivity', font: { size: 26 }, padding: { top: 0, bottom: 4 } },
        },
        y: {
          min: 0,
          max: 1000,
          afterFit: fixSize('width', marginLeft),
          afterBuildTicks: (s) => { s.ticks = intensityTicks.map((v) => ({ value: v })); },
          grid: { display: false, drawTicks: false },
          border: { display: false },
          ticks: { padding: 17, autoSkip: false, font: { size: 20 }, callback: (v) => String(v) },
          title: { display: true, text: 'Solar intensity (W/m²)', font: { size: 25 }, padding: { top: titlePad, bottom: 0 } },
        },
      },
      plugins: { frameTicks: { major: 5, minor: 3, tickWidth: 2, frame: 2 } },
    },
    plugins: [softCells, frameTicks],
  });
};

const gradientFill = (context, horizontal) => {
  const area = context.chart.chartArea;
  if (!area) return viridis[0];
  const grad = horizontal
    ? context.chart.ctx.createLinearGradient(area.left, 0, area.right, 0)
    : context.chart.ctx.createLinearGradient(0, area.bottom, 0, area.top);
  viridis.forEach((color, i) => grad.addColorStop(i / (viridis.length - 1), color));
  return grad;
};

const colorBar = (ctx, range, barTicks, padTop) => new Chart(ctx, {
  type: 'bar',
  data: {
    labels: ['power'],
    datasets: [{ data: [range], backgroundColor: (c) => gradientFill(c, false), categoryPercentage: 1, barPercentage: 1 }],
  },
  options: {
    responsive: false,
    layout: { padding: { left: 10, top: padTop, bottom: 20 } },
    scales: {
      x: { display: false },
      y: {
        position: 'right',
        min: range[0],
        max: range[1],
        afterFit: fixSize('width', 70),
        afterBuildTicks: (s) => { s.ticks = barTicks.map((v) => ({ value: v })); },
        grid: { display: false, drawTicks: false },
        border: { display: false },
        ticks: { padding: 12, autoSkip: false, font: { size: 20 }, callback: (v) => String(v) },
      },
    },
    plugins: { frameTicks: { major: 5, minor: 3, tickWidth: 2, frame: 1, frameColor: '#a9a9a9', color: '#333' } },
  },
  plugins: [frameTicks],
});

heatChart(addCanvas(0, 590, 525, 450), broadbandPower, broadbandRange, broadbandZeroE, broadbandZeroS, 112, 18, 14);
colorBar(addCanvas(521, 590, 99, 400), broadbandRange, broadbandBarTicks, 14);
heatChart(addCanvas(680, 590, 520, 450), selectivePower, selectiveRange, selectiveZeroE, selectiveZeroS, 106, 14, 13);
colorBar(addCanvas(1195, 590, 100, 400), selectiveRange, selectiveBarTicks, 13);

const mapChart = (ctx, outlines, saving, maxX, maxY) => new Chart(ctx, {
  type: 'scatter',
  data: {
    datasets: outlines.map((shape, i) => ({
      data: [...shape, shape[0]].map(([x, y]) => ({ x, y })),
      regionColor: colorAt(saving[i] / savingRange[1]),
      showLine: true,
      pointRadius: 0,
      borderColor: '#a9a9a9',
      borderWidth: 2.2,
      borderJoinStyle: 'round',
    })),
  },
  options: {
    responsive: false,
    scales: {
      x: { display: false, min: 0, max: maxX },
      y: { display: false, min: 0, max: maxY, reverse: true },
    },
  },
  plugins: [regionFill],
});

mapChart(addCanvas(130, 1150, 480, 310), usOutlines, usSaving, 1440, 930);
mapChart(addCanvas(620, 1050, 460, 420), chinaOutlines, chinaSaving, 1380, 1260);

new Chart(addCanvas(116, 1471, 1008, 112), {
  type: 'bar',
  data: {
    labels: ['saving'],
    datasets: [{ data: [savingRange], backgroundColor: (c) => gradientFill(c, true), categoryPercentage: 1, barPercentage: 1 }],
  },
  options: {
    responsive: false,
    indexAxis: 'y',
    layout: { padding: { left: 30, right: 30, top: 10 } },
    scales: {
      y: { display: false },
      x: {
        min: savingRange[0],
        max: savingRange[1],
        afterFit: fixSize('height', 84),
        afterBuildTicks: (s) => { s.ticks = savingTicks.map((v) => ({ value: v })); },
        grid: { display: false, drawTicks: false },
        border: { display: false },
        ticks: { padding: 17, autoSkip: false, maxRotation: 0, font: { size: 20 }, callback: (v) => (v % 20 === 0 ? String(v) : '') },
        title: { display: true, text: 'Energy saving / GJ', font: { size: 26 }, padding: { top: 0, bottom: 3 } },
      },
    },
    plugins: { frameTicks: { major: 8, minor: 5, tickWidth: 1.5, frame: 2 } },
  },
  plugins: [frameTicks],
});

addLetter('a', 10, 10);
addLetter('b', 10, 525);
addLetter('c', 678, 525);
addLetter('d', 10, 1075);

addLabel('Ideal broadband', 506, 105.5, 20.5);
addLabel('emitter', 506, 128.6, 20.5);
addLabel('14% solar absorption', 539, 294.6, 20.5);
addLabel('(APL waste)', 539, 317.7, 20.5);
addLabel('Ideal selective', 995, 105.5, 20.5);
addLabel('emitter', 995, 128.6, 20.5);
addLabel('AM 1.5', 353, 350, 20.5, '#fff');
addLabel('solar spectrum', 353, 373, 20.5, '#fff');
addLabel('Atmospheric', 828, 344, 20.5, '#e8f1f8');
addLabel('window', 828, 367, 20.5, '#e8f1f8');

addStrip('Broadband emitter', 152, 528, 236, 35, '#f07fb2');
addStrip('Laminated Al foil', 131, 562, 277, 35, '#e6e7e8');
addStrip('Selective emitter', 828, 528, 229, 35, '#b06e6e');
addStrip('Laminated Al foil', 809, 562, 267, 35, '#e6e7e8');

addLabel('Net cooling', 548, 555, 26);
addLabel('power (W/m²)', 548, 582, 26);
addLabel('Net cooling', 1229, 555, 26);
addLabel('power (W/m²)', 1229, 582, 26);
</script>
</body>
</html>
